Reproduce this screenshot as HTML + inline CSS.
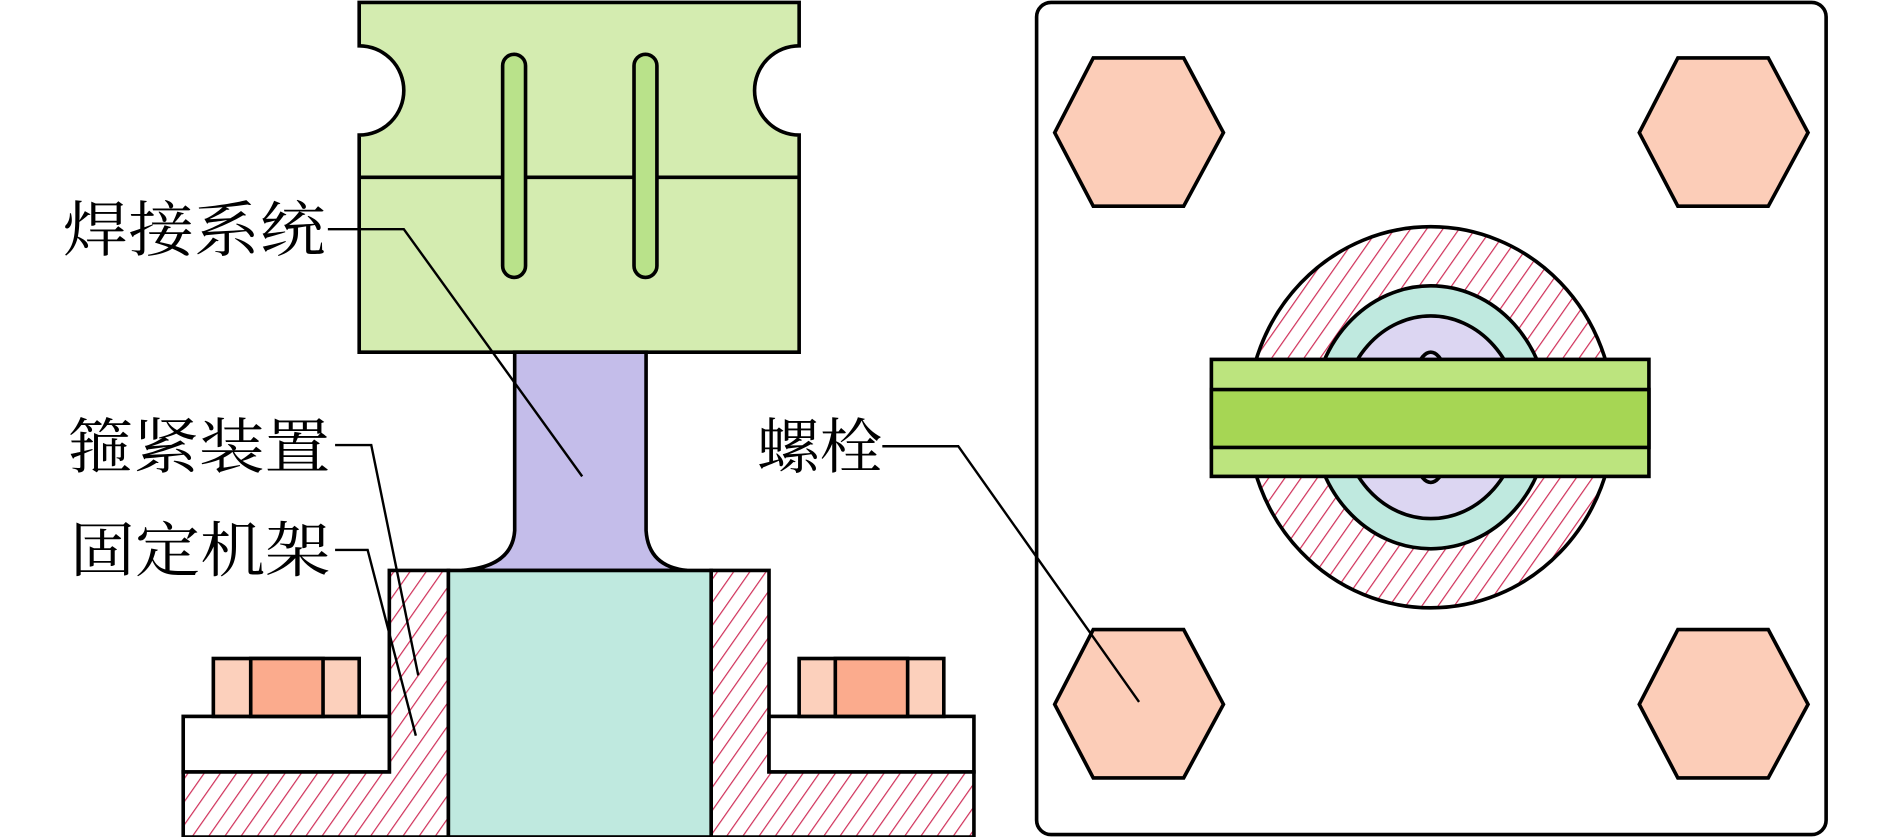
<!DOCTYPE html>
<html><head><meta charset="utf-8"><style>html,body{margin:0;padding:0;background:#fff}svg{display:block}</style></head>
<body>
<svg width="1890" height="837" viewBox="0 0 1568 694" preserveAspectRatio="none" xmlns="http://www.w3.org/2000/svg">
<defs>
<pattern id="h" patternUnits="userSpaceOnUse" width="11" height="11" patternTransform="rotate(35)">
<rect width="11" height="11" fill="#fff"/>
<line x1="0" y1="0" x2="0" y2="11" stroke="#d0305a" stroke-width="2"/>
</pattern>
</defs>
<g stroke="#000" stroke-width="3" fill="none">
<!-- green block -->
<path d="M298,2 H663 V38 A37,37 0 0 0 663,112 V292 H298 V112 A37,37 0 0 0 298,38 Z" fill="#d4ecb0"/>
<line x1="298" y1="147" x2="663" y2="147"/>
<rect x="417" y="45" width="19" height="185" rx="9.5" fill="#b9e28a"/>
<rect x="526" y="45" width="19" height="185" rx="9.5" fill="#b9e28a"/>
<!-- neck -->
<path d="M427,292 H536 V440 Q538,470 570,473 H383 Q425,470 427,440 Z" fill="#c4bdea"/>
<!-- hatched frame -->
<path d="M323,473 H372 V694 H152 V640 H323 Z" fill="url(#h)"/>
<path d="M590,473 H638 V640 H808 V694 H590 Z" fill="url(#h)"/>
<rect x="372" y="473" width="218" height="221" fill="#bfe9df"/>
<rect x="152" y="594" width="171" height="46" fill="#fff"/>
<rect x="638" y="594" width="170" height="46" fill="#fff"/>
<rect x="177" y="546" width="121" height="48" fill="#fcd0bc"/>
<rect x="208" y="546" width="60" height="48" fill="#fbab8d"/>
<rect x="663" y="546" width="120" height="48" fill="#fcd0bc"/>
<rect x="693" y="546" width="60" height="48" fill="#fbab8d"/>
<!-- right panel -->
<rect x="860" y="2" width="655" height="690" rx="12" fill="#fff"/>
<g fill="#fccdb8">
<polygon points="875,110 907,48 982,48 1015,110 982,171 907,171"/>
<polygon points="1360,110 1392,48 1467,48 1500,110 1467,171 1392,171"/>
<polygon points="875,584 907,522 982,522 1015,584 982,645 907,645"/>
<polygon points="1360,584 1392,522 1467,522 1500,584 1467,645 1392,645"/>
</g>
<ellipse cx="1187" cy="346" rx="152" ry="158" fill="url(#h)"/>
<ellipse cx="1187" cy="346" rx="98" ry="109" fill="#bfe9df"/>
<ellipse cx="1187" cy="346" rx="74" ry="84" fill="#dcd6f2"/>
<ellipse cx="1187" cy="346" rx="18" ry="54" fill="#dcd6f2"/>
<rect x="1005" y="298" width="363" height="97" fill="#bce47e"/>
<rect x="1005" y="323" width="363" height="48" fill="#a6d654"/>
<!-- leaders -->
<g stroke-width="2">
<polyline points="272,190 335,190 483,395"/>
<polyline points="278,369 308,369 347,560"/>
<polyline points="278,456 305,456 345,610"/>
<polyline points="732,370 795,370 945,582"/>
</g>
</g>
<g font-family="'Liberation Serif','Noto Serif CJK SC',serif" font-size="50" fill="#000">
<text x="52" y="208" textLength="218" lengthAdjust="spacingAndGlyphs">焊接系统</text>
<text x="56" y="388" textLength="218" lengthAdjust="spacingAndGlyphs">箍紧装置</text>
<text x="58" y="474" textLength="216" lengthAdjust="spacingAndGlyphs">固定机架</text>
<text x="628" y="388" textLength="104" lengthAdjust="spacingAndGlyphs">螺栓</text>
</g>
</svg>
</body></html>
